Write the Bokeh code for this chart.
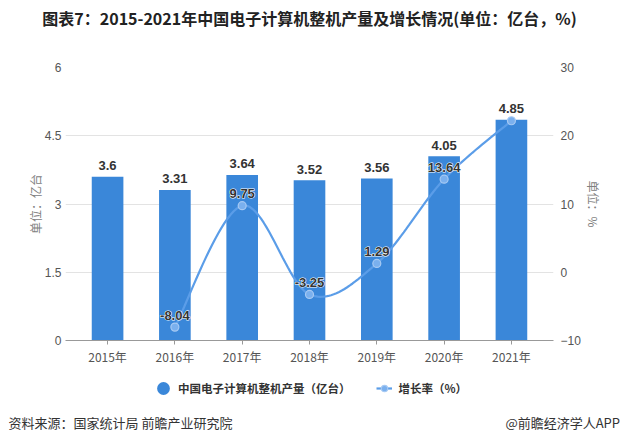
import numpy as np
from bokeh.plotting import figure
from bokeh.layouts import column
from bokeh.models import (ColumnDataSource, Range1d, LinearAxis, FixedTicker,
                          Legend, LegendItem, Title)
from bokeh.core.properties import value
from bokeh.embed import file_html
from bokeh.resources import INLINE

# ---- data ----
years = ["2015年", "2016年", "2017年", "2018年", "2019年", "2020年", "2021年"]
output = [3.6, 3.31, 3.64, 3.52, 3.56, 4.05, 4.85]
growth = [None, -8.04, 9.75, -3.25, 1.29, 13.64, 22.2]
growth_labels = ["", "-8.04", "9.75", "-3.25", "1.29", "13.64", ""]
left_ticks = [0, 1.5, 3, 4.5, 6]
right_ticks = [-10, 0, 10, 20, 30]

title = "图表7：2015-2021年中国电子计算机整机产量及增长情况(单位：亿台，%)"
left_unit = "单位：亿台"
right_unit = "单位：%"
bar_name = "中国电子计算机整机产量（亿台）"
line_name = "增长率（%）"
source_text = "资料来源：国家统计局 前瞻产业研究院"
brand_text = "@前瞻经济学人APP"

CJK = "Noto Sans CJK SC, sans-serif"
NUM = "Liberation Sans, Noto Sans CJK SC, sans-serif"

BAR_COLOR = "#3A87D9"
LINE_COLOR = "#5B9DE8"
PT_FILL = "#7AB0EE"
PT_LINE = "#A6C9F3"

W = 624
TITLE_H = 40
MAIN_H = 332
FOOT_H = 72
BL, BR = 65, 71


def strip(h, top, bottom):
    f = figure(width=W, height=h, output_backend="svg", toolbar_location=None,
               x_range=Range1d(0, 1), y_range=Range1d(0, 1),
               x_axis_type=None, y_axis_type=None, min_border_top=top,
               min_border_bottom=bottom, min_border_left=BL, min_border_right=BR,
               outline_line_color=None)
    f.xgrid.grid_line_color = None
    f.ygrid.grid_line_color = None
    return f


# ---- title strip ----
tf = strip(TITLE_H, 30, 0)
tf.title = Title(text=title, align="center", offset=4, standoff=1,
                 text_font=CJK, text_font_style="bold", text_font_size="16px",
                 text_color="#222222")

# ---- main chart ----
xs = list(range(len(years)))
p = figure(width=W, height=MAIN_H, output_backend="svg", toolbar_location=None,
           x_range=Range1d(-0.625, len(years) - 0.375), y_range=Range1d(0, 6),
           min_border_left=BL, min_border_right=BR, min_border_top=27,
           min_border_bottom=32, outline_line_color=None)
p.extra_y_ranges = {"rate": Range1d(-10, 30)}

bar_src = ColumnDataSource(dict(x=xs, top=output, lab=[str(v) for v in output]))
p.vbar(x="x", top="top", width=0.47, source=bar_src, fill_color=BAR_COLOR,
       line_color=None)
p.text(x="x", y="top", text="lab", source=bar_src, text_align="center",
       text_baseline="middle", y_offset=-11, text_font=value(NUM),
       text_font_style="bold", text_font_size="13px", text_color="#333333")

# smooth growth line (Catmull-Rom path through the data points)
gx = [x for x, g in zip(xs, growth) if g is not None]
gy = [g for g in growth if g is not None]
glab = [l for l, g in zip(growth_labels, growth) if g is not None]
px = np.array(gx, dtype=float)
py = np.array(gy, dtype=float)
cx, cy = [], []
n = len(px)
for i in range(n - 1):
    p0 = (px[max(i - 1, 0)], py[max(i - 1, 0)])
    p1 = (px[i], py[i])
    p2 = (px[i + 1], py[i + 1])
    p3 = (px[min(i + 2, n - 1)], py[min(i + 2, n - 1)])
    for t in np.linspace(0, 1, 25, endpoint=(i == n - 2)):
        t2, t3 = t * t, t * t * t
        for arr, k in ((cx, 0), (cy, 1)):
            arr.append(0.5 * ((2 * p1[k]) + (-p0[k] + p2[k]) * t +
                              (2 * p0[k] - 5 * p1[k] + 4 * p2[k] - p3[k]) * t2 +
                              (-p0[k] + 3 * p1[k] - 3 * p2[k] + p3[k]) * t3))
p.line(cx, cy, y_range_name="rate", line_color=LINE_COLOR, line_width=2.2)
pt_src = ColumnDataSource(dict(x=gx, y=gy, lab=glab))
p.scatter(x="x", y="y", source=pt_src, y_range_name="rate", size=8,
          fill_color=PT_FILL, line_color=PT_LINE, line_width=1.2)
p.text(x="x", y="y", text="lab", source=pt_src, y_range_name="rate",
       text_align="center", text_baseline="middle", y_offset=-12,
       text_font=value(NUM), text_font_style="bold", text_font_size="13px",
       text_color="white", text_outline_color="white")
p.text(x="x", y="y", text="lab", source=pt_src, y_range_name="rate",
       text_align="center", text_baseline="middle", y_offset=-12,
       text_font=value(NUM), text_font_style="bold", text_font_size="13px",
       text_color="#333333")

# axes
p.yaxis.ticker = FixedTicker(ticks=left_ticks)
p.yaxis.axis_line_color = None
p.yaxis.major_tick_line_color = None
p.yaxis.major_tick_out = 0
p.yaxis.major_tick_in = 0
p.yaxis.minor_tick_line_color = None
p.yaxis.major_label_text_font_size = "12px"
p.yaxis.major_label_text_color = "#555555"
p.yaxis.major_label_text_font = NUM
p.yaxis.major_label_standoff = 4
p.yaxis.axis_label = left_unit
p.yaxis.axis_label_text_font = CJK
p.yaxis.axis_label_text_font_style = "normal"
p.yaxis.axis_label_text_font_size = "12px"
p.yaxis.axis_label_text_color = "#808080"
p.yaxis.axis_label_standoff = -2

ra = LinearAxis(y_range_name="rate", ticker=FixedTicker(ticks=right_ticks))
ra.axis_line_color = None
ra.major_tick_line_color = None
ra.major_tick_out = 0
ra.major_tick_in = 0
ra.minor_tick_line_color = None
ra.major_label_text_font_size = "12px"
ra.major_label_text_color = "#555555"
ra.major_label_text_font = NUM
ra.major_label_standoff = 7
ra.axis_label = right_unit
ra.axis_label_text_font = CJK
ra.axis_label_text_font_style = "normal"
ra.axis_label_text_font_size = "12px"
ra.axis_label_text_color = "#808080"
ra.axis_label_standoff = 1
p.add_layout(ra, "right")

p.xaxis.ticker = FixedTicker(ticks=xs)
p.xaxis.major_label_overrides = {i: y for i, y in enumerate(years)}
p.xaxis.axis_line_color = "#999999"
p.xaxis.major_tick_line_color = "#999999"
p.xaxis.major_tick_in = 0
p.xaxis.major_tick_out = 4
p.xaxis.minor_tick_line_color = None
p.xaxis.major_label_text_font_size = "12px"
p.xaxis.major_label_text_color = "#555555"
p.xaxis.major_label_text_font = CJK
p.xaxis.major_label_standoff = 3

p.xgrid.grid_line_color = None
p.ygrid.grid_line_color = "#E3E3E3"
p.ygrid.ticker = FixedTicker(ticks=left_ticks)

# ---- legend + footer strip ----
ff = strip(FOOT_H, 0, 36)
nan = [float("nan")]
bar_icon = ff.ellipse(x=nan, y=nan, width=13, height=13, width_units="screen",
                      height_units="screen", fill_color=BAR_COLOR, line_color=None)
ln_icon = ff.line(x=nan, y=nan, line_color=LINE_COLOR, line_width=2.2)
pt_icon = ff.scatter(x=nan, y=nan, size=8, fill_color=PT_FILL, line_color=PT_LINE,
                     line_width=1.2)
legend = Legend(items=[LegendItem(label=bar_name, renderers=[bar_icon]),
                       LegendItem(label=line_name, renderers=[ln_icon, pt_icon])],
                orientation="horizontal", location=(90, 12),
                glyph_width=16, glyph_height=16, label_standoff=7, spacing=25,
                padding=0, margin=0, border_line_color=None,
                background_fill_alpha=0, label_text_font=CJK,
                label_text_font_style="bold", label_text_font_size="11.5px",
                label_text_color="#333333", label_height=16)
ff.add_layout(legend, "center")

gap = "\u3000" * 21
ff.add_layout(Title(text=source_text + gap + brand_text, align="left", offset=-57,
                    standoff=9, vertical_align="top", text_font=CJK,
                    text_font_style="normal", text_font_size="13px",
                    text_color="#333333"), "below")

layout = column(tf, p, ff, spacing=0)
open("out.html", "w").write(file_html(layout, INLINE))
